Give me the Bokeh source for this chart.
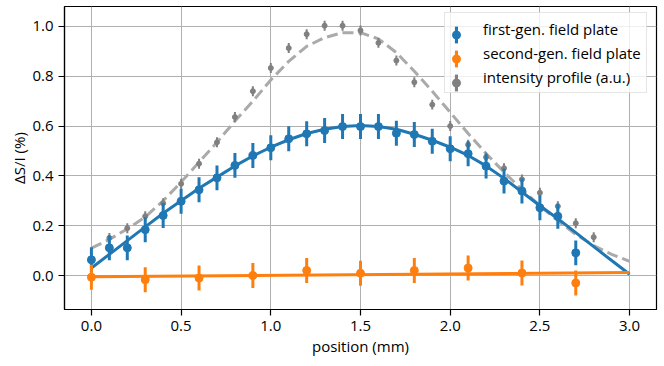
import numpy as np
from bokeh.plotting import figure
from bokeh.models import Range1d, Legend, LegendItem, FixedTicker, NumeralTickFormatter
from bokeh.embed import file_html
from bokeh.resources import INLINE

# ---- data ----
# first-generation field plate
pos_first = [0.0, 0.1, 0.2, 0.3, 0.4, 0.5, 0.6, 0.7, 0.8, 0.9, 1.0, 1.1, 1.2, 1.3,
             1.4, 1.5, 1.6, 1.7, 1.8, 1.9, 2.0, 2.1, 2.2, 2.3, 2.4, 2.5, 2.6, 2.7]
sig_first = [0.063, 0.111, 0.111, 0.184, 0.241, 0.298, 0.344, 0.392, 0.442, 0.482,
             0.513, 0.549, 0.569, 0.582, 0.598, 0.598, 0.598, 0.571, 0.566, 0.539,
             0.509, 0.489, 0.439, 0.379, 0.339, 0.272, 0.238, 0.091]
err_first = [0.05, 0.05, 0.05, 0.05, 0.05, 0.05, 0.05, 0.05, 0.05, 0.05,
             0.05, 0.05, 0.05, 0.05, 0.05, 0.05, 0.05, 0.05, 0.05, 0.05,
             0.05, 0.05, 0.05, 0.05, 0.05, 0.05, 0.05, 0.05]

# second-generation field plate
pos_second = [0.0, 0.3, 0.6, 0.9, 1.2, 1.5, 1.8, 2.1, 2.4, 2.7]
sig_second = [-0.007, -0.017, -0.01, 0.0, 0.02, 0.009, 0.02, 0.03, 0.01, -0.03]
err_second = [0.05, 0.05, 0.05, 0.05, 0.05, 0.05, 0.05, 0.05, 0.05, 0.05]

# intensity profile (a.u.)
pos_int = [0.1, 0.2, 0.3, 0.4, 0.5, 0.6, 0.7, 0.8, 0.9, 1.0, 1.1, 1.2, 1.3, 1.4,
           1.5, 1.6, 1.7, 1.8, 1.9, 2.0, 2.1, 2.2, 2.3, 2.4, 2.5, 2.6, 2.7, 2.8]
sig_int = [0.151, 0.19, 0.238, 0.29, 0.368, 0.449, 0.535, 0.636, 0.74, 0.833,
           0.913, 0.969, 1.003, 1.003, 0.984, 0.934, 0.863, 0.776, 0.686, 0.60,
           0.525, 0.475, 0.431, 0.386, 0.332, 0.278, 0.21, 0.154]
err_int = [0.02, 0.02, 0.02, 0.02, 0.02, 0.02, 0.02, 0.02, 0.02, 0.02,
           0.02, 0.02, 0.02, 0.02, 0.02, 0.02, 0.02, 0.02, 0.02, 0.02,
           0.02, 0.02, 0.02, 0.02, 0.02, 0.02, 0.02, 0.02]

# fitted curves
fit_x = [0.0, 0.1, 0.2, 0.3, 0.4, 0.5, 0.6, 0.7, 0.8, 0.9, 1.0, 1.1, 1.2, 1.3, 1.4, 1.5,
         1.6, 1.7, 1.8, 1.9, 2.0, 2.1, 2.2, 2.3, 2.4, 2.5, 2.6, 2.7, 2.8, 2.9, 3.0]
fit_first = [0.03, 0.085, 0.14, 0.195, 0.25, 0.30, 0.35, 0.395, 0.44, 0.48, 0.515,
             0.545, 0.57, 0.587, 0.598, 0.602, 0.598, 0.587, 0.567, 0.543, 0.515,
             0.482, 0.44, 0.39, 0.335, 0.28, 0.228, 0.172, 0.116, 0.06, 0.005]
fit_int = [0.11, 0.145, 0.187, 0.235, 0.30, 0.375, 0.455, 0.535, 0.62, 0.70, 0.785,
           0.86, 0.92, 0.955, 0.975, 0.975, 0.95, 0.895, 0.82, 0.74, 0.655,
           0.57, 0.49, 0.415, 0.345, 0.28, 0.22, 0.165, 0.12, 0.085, 0.057]
fit_second_x = [0.0, 3.0]
fit_second = [-0.005, 0.012]

x_ticks = [0.0, 0.5, 1.0, 1.5, 2.0, 2.5, 3.0]
y_ticks = [0.0, 0.2, 0.4, 0.6, 0.8, 1.0]

labels = ["first-gen. field plate", "second-gen. field plate", "intensity profile (a.u.)"]

BLUE = "#1f77b4"
ORANGE = "#ff7f0e"
GRAY = "#808080"
FONT = "Open Sans"

X0, X1 = -0.15, 3.15
FRAME_W = 592
PX = (X1 - X0) / FRAME_W   # data units per screen pixel (for error-bar widths)

p = figure(width=664, height=366, output_backend="svg", toolbar_location=None,
           x_range=Range1d(X0, X1), y_range=Range1d(-0.1365, 1.08),
           min_border_left=64, min_border_right=8, min_border_top=6, min_border_bottom=57)

p.background_fill_color = "white"
p.border_fill_color = "white"
p.outline_line_color = "black"
p.outline_line_width = 1.2

for ax in (p.xaxis[0], p.yaxis[0]):
    ax.axis_line_color = "black"
    ax.axis_line_width = 1.2
    ax.major_tick_line_color = "black"
    ax.major_tick_line_width = 1.2
    ax.major_tick_out = 6
    ax.major_tick_in = 0
    ax.minor_tick_line_color = None
    ax.major_label_text_font = FONT
    ax.major_label_text_font_size = "15px"
    ax.major_label_text_color = "black"
    ax.axis_label_text_font = FONT
    ax.axis_label_text_font_size = "15px"
    ax.axis_label_text_font_style = "normal"
    ax.axis_label_text_color = "black"
    ax.formatter = NumeralTickFormatter(format="0.0")

p.xaxis.ticker = FixedTicker(ticks=x_ticks)
p.yaxis.ticker = FixedTicker(ticks=y_ticks)
p.xaxis.axis_label = "position (mm)"
p.yaxis.axis_label = "ΔS/I (%)"
p.xaxis.major_label_standoff = 5
p.yaxis.major_label_standoff = 5
p.xaxis.axis_label_standoff = 2
p.yaxis.axis_label_standoff = 0

p.grid.grid_line_color = "#b0b0b0"
p.grid.grid_line_width = 1

# intensity profile
p.line(fit_x, fit_int, line_color="#aaaaaa", line_width=3, line_dash="11 5")
lo = np.array(sig_int) - np.array(err_int)
hi = np.array(sig_int) + np.array(err_int)
b_int = p.vbar(x=pos_int, bottom=lo, top=hi, width=2 * PX, fill_color=GRAY, line_color=None)
s_int = p.scatter(pos_int, sig_int, size=5, fill_color=GRAY, line_color=GRAY)

# first gen
p.line(fit_x, fit_first, line_color=BLUE, line_width=3)
lo = np.array(sig_first) - np.array(err_first)
hi = np.array(sig_first) + np.array(err_first)
b_first = p.vbar(x=pos_first, bottom=lo, top=hi, width=3 * PX, fill_color=BLUE, line_color=None)
s_first = p.scatter(pos_first, sig_first, size=8, fill_color=BLUE, line_color=BLUE)

# second gen
p.line(fit_second_x, fit_second, line_color=ORANGE, line_width=3)
lo = np.array(sig_second) - np.array(err_second)
hi = np.array(sig_second) + np.array(err_second)
b_second = p.vbar(x=pos_second, bottom=lo, top=hi, width=3 * PX, fill_color=ORANGE, line_color=None)
s_second = p.scatter(pos_second, sig_second, size=8, fill_color=ORANGE, line_color=ORANGE)

# empty renderers: they draw nothing in the legend (box + labels only)
v_first = p.vspan(x=[], line_color=BLUE)
v_second = p.vspan(x=[], line_color=ORANGE)
v_int = p.vspan(x=[], line_color=GRAY)

LEG_X, LEG_Y = 380, 216   # bottom-left of legend box, px from frame bottom-left


def style(lg, glyph_w, standoff, loc):
    lg.location = loc
    lg.margin = 0
    lg.padding = 5
    lg.spacing = 3
    lg.glyph_width = glyph_w
    lg.glyph_height = 21
    lg.label_height = 20
    lg.label_standoff = standoff
    lg.label_text_font = FONT
    lg.label_text_font_size = "15px"
    lg.label_text_color = "black"


# box + texts
leg_text = Legend(items=[
    LegendItem(label=labels[0], renderers=[v_first]),
    LegendItem(label=labels[1], renderers=[v_second]),
    LegendItem(label=labels[2], renderers=[v_int]),
])
style(leg_text, 24, 9, (LEG_X, LEG_Y))
leg_text.background_fill_color = "white"
leg_text.background_fill_alpha = 0.8
leg_text.border_line_color = "#cccccc"
leg_text.border_line_width = 1

# error-bar icons
leg_bars = Legend(items=[
    LegendItem(label="", renderers=[b_first]),
    LegendItem(label="", renderers=[b_second]),
    LegendItem(label="", renderers=[b_int]),
])
style(leg_bars, 4, 0, (LEG_X + 10, LEG_Y))
leg_bars.background_fill_alpha = 0
leg_bars.border_line_color = None

# marker icons
leg_marks = Legend(items=[
    LegendItem(label="", renderers=[s_first]),
    LegendItem(label="", renderers=[s_second]),
    LegendItem(label="", renderers=[s_int]),
])
style(leg_marks, 20, 0, (LEG_X + 2, LEG_Y))
leg_marks.background_fill_alpha = 0
leg_marks.border_line_color = None

p.add_layout(leg_text)
p.add_layout(leg_bars)
p.add_layout(leg_marks)

open("out.html", "w").write(file_html(p, INLINE))
